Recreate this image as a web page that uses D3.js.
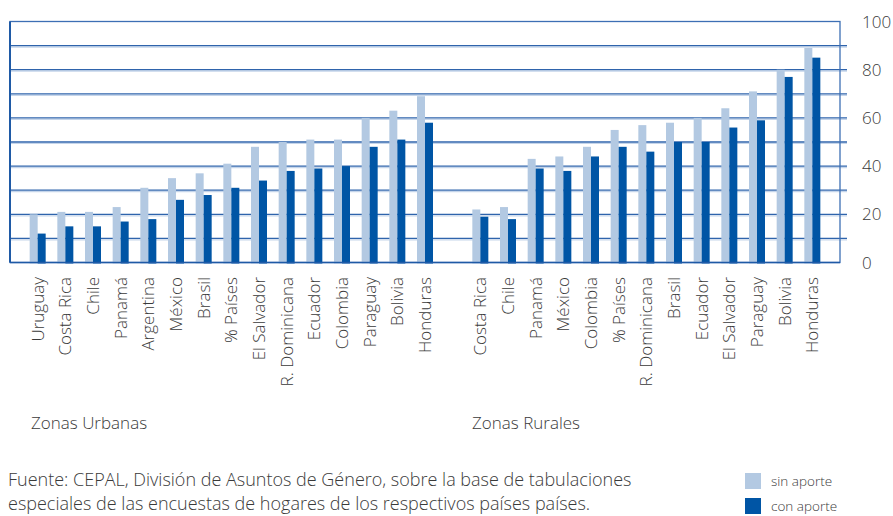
<!DOCTYPE html>
<html>
<head>
  <meta charset="utf-8">
  <script src="https://cdn.jsdelivr.net/npm/d3@7"></script>
  <style>
    body { margin: 0; background: #fff; }
    svg text { font-family: "Open Sans", sans-serif; fill: #3a3a3a; font-weight: 300; }
  </style>
</head>
<body>
<script>
  // categories, in drawing order (urban group, empty slot, rural group)
  var urbanCats = ["Uruguay", "Costa Rica", "Chile", "Panamá", "Argentina", "México", "Brasil",
                   "% Países", "El Salvador", "R. Dominicana", "Ecuador", "Colombia",
                   "Paraguay", "Bolivia", "Honduras"];
  var urbanSin = [20, 21, 21, 23, 31, 35, 37, 41, 48, 50, 51, 51, 60, 63, 69];
  var urbanCon = [12, 15, 15, 17, 18, 26, 28, 31, 34, 38, 39, 40, 48, 51, 58];

  var ruralCats = ["Costa Rica", "Chile", "Panamá", "México", "Colombia", "% Países",
                   "R. Dominicana", "Brasil", "Ecuador", "El Salvador", "Paraguay",
                   "Bolivia", "Honduras"];
  var ruralSin = [22, 23, 43, 44, 48, 55, 57, 58, 60, 64, 71, 80, 89];
  var ruralCon = [19, 18, 39, 38, 44, 48, 46, 50, 50, 56, 59, 77, 85];

  var yTicks = [0, 20, 40, 60, 80, 100];
  var seriesNames = ["sin aporte", "con aporte"];
  var colors = ["#b3c9e2", "#0055a5"];

  var width = 893, height = 516;
  var plotL = 10, plotR = 840, plotT = 21.5, plotB = 262.5;

  // one key per slot so repeated country names stay apart
  var rows = [];
  urbanCats.forEach(function (c, i) {
    rows.push({ key: "u" + i, name: c, sin: urbanSin[i], con: urbanCon[i] });
  });
  rows.push({ key: "gap", name: "", sin: null, con: null });
  ruralCats.forEach(function (c, i) {
    rows.push({ key: "r" + i, name: c, sin: ruralSin[i], con: ruralCon[i] });
  });

  var svg = d3.select("body").append("svg")
      .attr("width", width)
      .attr("height", height);

  var x = d3.scalePoint()
      .domain(rows.map(function (d) { return d.key; }))
      .range([plotL, plotR])
      .padding(1);

  var y = d3.scaleLinear().domain([0, 100]).range([plotB, plotT]);

  // gridlines every 10, light band under each dark line
  var grid = d3.range(10, 100, 10);
  svg.append("g").selectAll("line")
      .data(grid)
    .enter().append("line")
      .attr("x1", plotL).attr("x2", plotR + 7)
      .attr("y1", function (d) { return y(d) + 1.5; })
      .attr("y2", function (d) { return y(d) + 1.5; })
      .attr("stroke", "#c5d5ea")
      .attr("stroke-width", 1.2);
  svg.append("g").selectAll("line")
      .data(grid)
    .enter().append("line")
      .attr("x1", plotL).attr("x2", plotR + 7)
      .attr("y1", function (d) { return y(d); })
      .attr("y2", function (d) { return y(d); })
      .attr("stroke", "#2f64ac")
      .attr("stroke-width", 1.3);

  // frame
  svg.append("rect")
      .attr("x", plotL).attr("y", y(100))
      .attr("width", plotR - plotL).attr("height", y(0) - y(100))
      .attr("fill", "none")
      .attr("stroke", "#3d6fb4")
      .attr("stroke-width", 1.3);
  svg.append("line")
      .attr("x1", plotL).attr("x2", plotL)
      .attr("y1", y(100)).attr("y2", y(0))
      .attr("stroke", "#1f5aa6").attr("stroke-width", 2);

  // bars
  var bw = 8;
  var bars = svg.append("g");
  bars.selectAll("rect.sin")
      .data(rows.filter(function (d) { return d.sin !== null; }))
    .enter().append("rect")
      .attr("class", "sin")
      .attr("x", function (d) { return x(d.key) - bw; })
      .attr("width", bw)
      .attr("y", function (d) { return y(d.sin); })
      .attr("height", function (d) { return y(0) - y(d.sin) + 1; })
      .attr("fill", colors[0]);
  bars.selectAll("rect.con")
      .data(rows.filter(function (d) { return d.con !== null; }))
    .enter().append("rect")
      .attr("class", "con")
      .attr("x", function (d) { return x(d.key); })
      .attr("width", bw)
      .attr("y", function (d) { return y(d.con); })
      .attr("height", function (d) { return y(0) - y(d.con) + 1; })
      .attr("fill", colors[1]);

  // bottom axis line over bar feet
  svg.append("line")
      .attr("x1", plotL).attr("x2", plotR)
      .attr("y1", y(0)).attr("y2", y(0))
      .attr("stroke", "#1f5aa6").attr("stroke-width", 1.5);

  // category labels
  svg.append("g").selectAll("text")
      .data(rows)
    .enter().append("text")
      .attr("transform", function (d) {
        return "translate(" + (x(d.key) + 6) + "," + 277 + ") rotate(-90)";
      })
      .attr("text-anchor", "end")
      .style("font-size", "17px")
      .text(function (d) { return d.name; });

  // right value axis
  svg.append("g").selectAll("text")
      .data(yTicks)
    .enter().append("text")
      .attr("x", 862)
      .attr("y", function (d) { return y(d); })
      .attr("dy", "0.36em")
      .style("font-size", "17px")
      .text(function (d) { return d; });

  // group titles
  svg.append("text").attr("x", 31).attr("y", 429)
      .style("font-size", "17px").text("Zonas Urbanas");
  svg.append("text").attr("x", 472).attr("y", 429)
      .style("font-size", "17px").text("Zonas Rurales");

  // source note
  svg.append("text").attr("x", 8).attr("y", 486)
      .style("font-size", "18px")
      .text("Fuente: CEPAL, División de Asuntos de Género, sobre la base de tabulaciones");
  svg.append("text").attr("x", 8).attr("y", 510)
      .style("font-size", "18px")
      .text("especiales de las encuestas de hogares de los respectivos países países.");

  // legend
  var lg = svg.append("g").attr("transform", "translate(745,473)");
  seriesNames.forEach(function (s, i) {
    lg.append("rect").attr("x", 0).attr("y", i * 25)
        .attr("width", 16).attr("height", 16).attr("fill", colors[i]);
    lg.append("text").attr("x", 26).attr("y", i * 25 + 13)
        .style("font-size", "13.5px").text(s);
  });
</script>
</body>
</html>
